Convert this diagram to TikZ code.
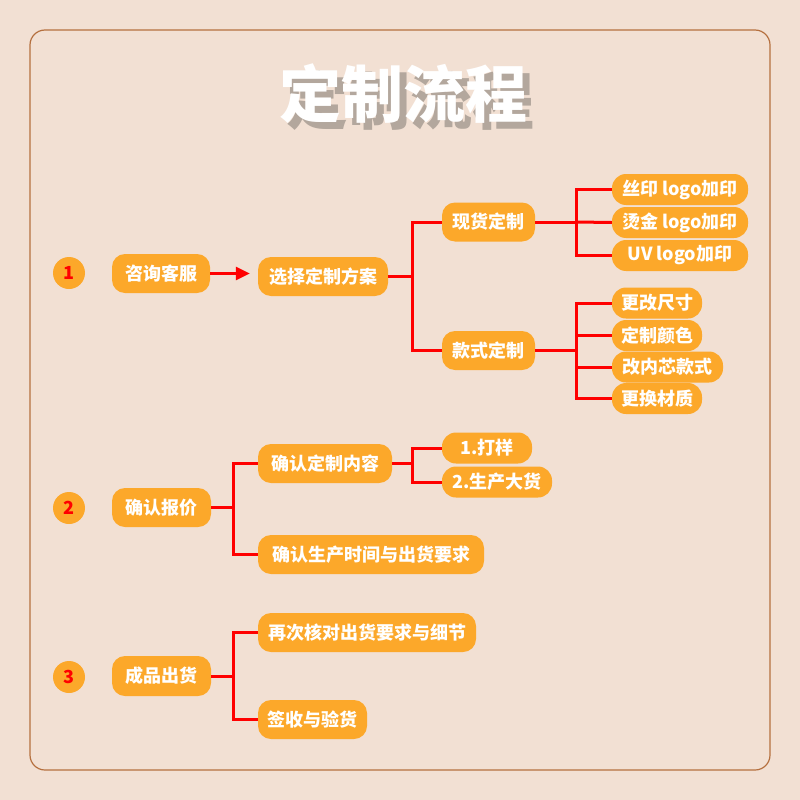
\documentclass[tikz,border=0pt]{standalone}
\usepackage{fontspec}
\setmainfont{Noto Sans CJK SC}
\usetikzlibrary{arrows.meta,positioning}
\definecolor{bgcol}{HTML}{F2E0D3}
\definecolor{framecol}{HTML}{B5703F}
\definecolor{boxcol}{HTML}{FCA82A}
\definecolor{shadecol}{HTML}{B3A79D}
\definecolor{linkcol}{HTML}{FF0000}

\begin{document}
\begin{tikzpicture}[x=1pt,y=-1pt,>=Stealth,
  every node/.style={font=\fontsize{18}{18}\selectfont\bfseries},
  box/.style={fill=boxcol,text=white,rounded corners=13pt,inner sep=0pt,minimum height=39pt},
  leaf/.style={box,rounded corners=14pt,minimum height=31pt},
  numdot/.style={circle,fill=boxcol,text=linkcol,inner sep=0pt,minimum size=32pt},
  link/.style={draw=linkcol,line width=3pt}]
  \useasboundingbox[fill=bgcol] (0,0) rectangle (800,800);
  \draw[framecol,line width=1.2pt,rounded corners=15pt] (30,30) rectangle (770,770);
  \node[text=white,font=\fontsize{62}{62}\selectfont\bfseries] (title) at (403,97)
    {\makebox[0pt][l]{\hspace{7pt}\raisebox{-7pt}{\color{shadecol}定制流程}}定制流程};

  \node[numdot] (n1) at (69,273) {1};
  \node[numdot] (n2) at (69,508) {2};
  \node[numdot] (n3) at (69,677) {3};

  \node[box,minimum width=98pt] (consult) at (161,273.5) {咨询客服};
  \node[box,minimum width=130pt] (choose) at (323,276.5) {选择定制方案};
  \node[box,minimum width=93pt] (stock) at (488.5,222) {现货定制};
  \node[box,minimum width=93pt] (style) at (488.5,350.5) {款式定制};
  \node[leaf,minimum width=136pt] (silk) at (680,189.5) {丝印 logo加印};
  \node[leaf,minimum width=136pt] (foil) at (680,222.5) {烫金 logo加印};
  \node[leaf,minimum width=136pt] (uv) at (680,255.5) {UV logo加印};
  \node[leaf,minimum width=90pt] (size) at (657,303) {更改尺寸};
  \node[leaf,minimum width=90pt] (colour) at (657,335.5) {定制颜色};
  \node[leaf,minimum width=111pt] (core) at (667.5,367) {改内芯款式};
  \node[leaf,minimum width=90pt] (material) at (657,398.5) {更换材质};

  \node[box,minimum width=99pt] (quote) at (161.5,507.5) {确认报价};
  \node[box,minimum width=134pt] (content) at (325,463.5) {确认定制内容};
  \node[leaf,minimum width=90pt] (sample) at (487,448) {1.打样};
  \node[leaf,minimum width=110pt] (bulk) at (497,482) {2.生产大货};
  \node[box,minimum width=226pt] (schedule) at (371,554.5) {确认生产时间与出货要求};

  \node[box,minimum width=99pt,minimum height=40pt] (ship) at (161.5,676) {成品出货};
  \node[box,minimum width=218pt] (recheck) at (367,632.5) {再次核对出货要求与细节};
  \node[box,minimum width=109pt] (receive) at (312.5,719.5) {签收与验货};

  \coordinate (j1) at (412,0);
  \coordinate (j2) at (576,0);
  \coordinate (j3) at (233,0);
  \coordinate (j4) at (412,0);

  \draw[link,-{Triangle[length=14pt,width=13pt]},shorten >=8pt] (consult) -- (choose.west |- consult);
  \draw[link] (choose.east) -- (choose.east -| j1) |- (stock.west);
  \draw[link] (choose.east -| j1) |- (style.west);
  \draw[link] (stock.east) -- (stock.east -| j2) |- (silk.west);
  \draw[link] (stock.east -| j2) -- (foil.west);
  \draw[link] (stock.east -| j2) |- (uv.west);
  \draw[link] (style.east) -- (style.east -| j2) |- (size.west);
  \draw[link] (style.east -| j2) |- (colour.west);
  \draw[link] (style.east -| j2) |- (core.west);
  \draw[link] (style.east -| j2) |- (material.west);

  \draw[link] (quote.east) -- (quote.east -| j3) |- (content.west);
  \draw[link] (quote.east -| j3) |- (schedule.west);
  \draw[link] (content.east) -- (content.east -| j4) |- (sample.west);
  \draw[link] (content.east -| j4) |- (bulk.west);

  \draw[link] (ship.east) -- (ship.east -| j3) |- (recheck.west);
  \draw[link] (ship.east -| j3) |- (receive.west);
\end{tikzpicture}
\end{document}
